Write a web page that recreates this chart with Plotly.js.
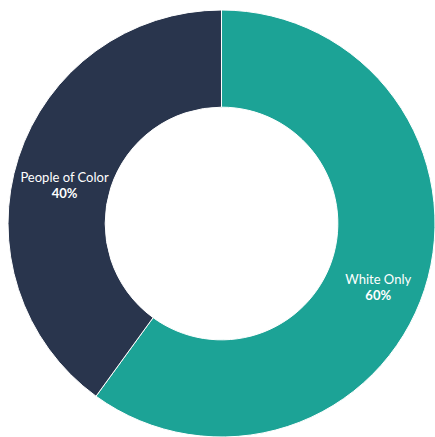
<!DOCTYPE html>
<html>
<head>
<meta charset="utf-8">
<script src="https://cdn.plot.ly/plotly-3.0.1.min.js"></script>
<style>
html,body{margin:0;padding:0;background:#fff;overflow:hidden;}
#wrap{width:435px;height:437px;overflow:hidden;position:relative;}
#chart{width:435px;height:462px;position:absolute;top:0;left:0;}
</style>
</head>
<body>
<div id="wrap"><div id="chart"></div></div>
<script>
var labels = ["White Only", "People of Color"];
var values = [60, 40];
var colors = ["#1ca396", "#29354d"];

var H = 462;
// ring: drawn slices, no text
var ring = {
  type: "pie",
  labels: labels,
  values: values,
  hole: 0.545,
  sort: false,
  direction: "clockwise",
  rotation: 0,
  marker: {colors: colors, line: {color: "#ffffff", width: 1}},
  textinfo: "none",
  domain: {x: [0.0184, 1], y: [(H - 437.5) / H, (H - 9.5) / H]},
  showlegend: false,
  hoverinfo: "label+percent"
};
// same slices, transparent, carrying the labels slightly lower
var labelRing = {
  type: "pie",
  labels: labels,
  values: values,
  hole: 0.545,
  sort: false,
  direction: "clockwise",
  rotation: 0,
  marker: {colors: ["rgba(0,0,0,0)", "rgba(0,0,0,0)"], line: {width: 0}},
  textposition: "inside",
  insidetextorientation: "horizontal",
  texttemplate: "%{label}<br><b>%{percent:.0%}</b>",
  textfont: {family: "Lato, 'Open Sans', sans-serif", size: 13, color: "#ffffff"},
  domain: {x: [0.0184, 1], y: [(H - 450) / H, (H - 22) / H]},
  showlegend: false,
  hoverinfo: "skip"
};

var layout = {
  width: 435,
  height: H,
  margin: {l: 0, r: 0, t: 0, b: 0},
  paper_bgcolor: "#ffffff",
  showlegend: false
};

Plotly.newPlot("chart", [ring, labelRing], layout, {displayModeBar: false, staticPlot: true});
</script>
</body>
</html>
